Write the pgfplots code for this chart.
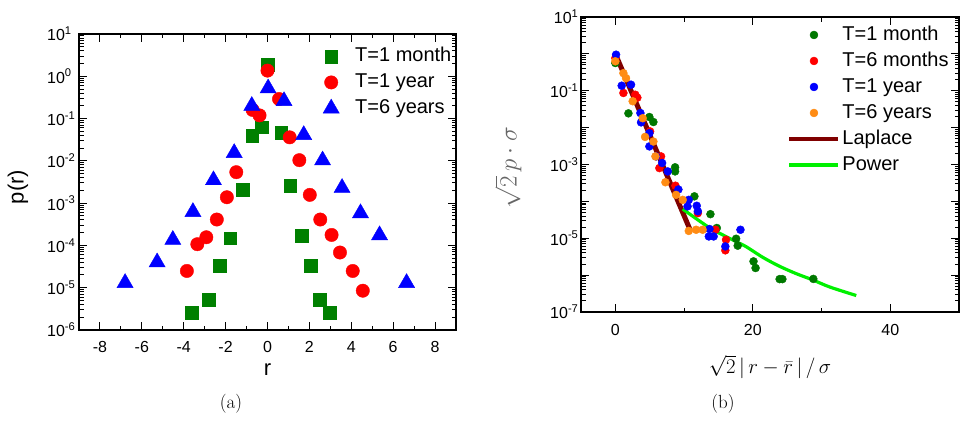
\documentclass[border=0pt]{standalone}
\usepackage{fontspec}
\newfontfamily\arial{Liberation Sans}
\usepackage{pgfplots}
\pgfplotsset{compat=1.18}
\definecolor{sqgreen}{RGB}{0,128,0}
\definecolor{dgreen}{RGB}{0,120,0}
\definecolor{orng}{RGB}{255,140,20}
\definecolor{laplace}{RGB}{128,0,0}
\definecolor{power}{RGB}{0,240,0}
\pgfplotsset{
  lineleg/.style={legend image code/.code={%
    \path[draw=none,fill=none] (0pt,-2pt) rectangle (53pt,2pt);
    \draw[##1, line width=#1] (0pt,0pt) -- (49pt,0pt);}},
}
\begin{document}
\begin{tikzpicture}[x=1pt,y=1pt]
\path[use as bounding box] (0,0) rectangle (963,426);
% ---------------- (a) ----------------
\begin{axis}[
  scale only axis, anchor=south west, ymode=log, log basis y=10,
  axis line style={line width=1.4pt},
  tick style={line width=1pt, black},
  major tick length=8pt, minor tick length=4.5pt,
  tick align=inside,
  ticklabel style={font=\arial\fontsize{16}{19}\selectfont},
  legend cell align=left,
  at={(79pt,96pt)}, width=377pt, height=296pt,
  xmin=-9, xmax=9, ymin=1e-6, ymax=10,
  xtick={-8,-6,-4,-2,0,2,4,6,8},
  xticklabels={-8,-6,-4,-2,0,2,4,6,8},
  minor xtick={-9,-7,-5,-3,-1,1,3,5,7,9},
  xticklabel style={yshift=-8pt},
  ytick={1e-6,1e-5,1e-4,1e-3,1e-2,1e-1,1,10},
  yticklabels={10\textsuperscript{-6},10\textsuperscript{-5},10\textsuperscript{-4},10\textsuperscript{-3},10\textsuperscript{-2},10\textsuperscript{-1},10\textsuperscript{0},10\textsuperscript{1}},
  yticklabel style={anchor=west, inner xsep=0pt, xshift=-32pt},
  minor ytick={2e-6,3e-6,4e-6,5e-6,6e-6,7e-6,8e-6,9e-6,
    2e-5,3e-5,4e-5,5e-5,6e-5,7e-5,8e-5,9e-5,
    2e-4,3e-4,4e-4,5e-4,6e-4,7e-4,8e-4,9e-4,
    2e-3,3e-3,4e-3,5e-3,6e-3,7e-3,8e-3,9e-3,
    2e-2,3e-2,4e-2,5e-2,6e-2,7e-2,8e-2,9e-2,
    2e-1,3e-1,4e-1,5e-1,6e-1,7e-1,8e-1,9e-1,
    2,3,4,5,6,7,8,9},
  xlabel={r}, ylabel={p(r)},
  label style={font=\arial\fontsize{22}{26}\selectfont},
  xlabel style={at={(axis description cs:0.5,-0.135)}, anchor=center},
  ylabel style={at={(axis description cs:-0.162,0.483)}, anchor=center},
  legend style={at={(axis description cs:0.6366,0.957)}, anchor=north west,
    draw=none, fill=none, inner sep=0pt, row sep=7pt,
    font=\arial\fontsize{20}{24}\selectfont,
    nodes={inner sep=0pt, text height=15pt, text depth=4pt}},
  legend image code/.code={%
    \path[draw=none,fill=none] (0pt,-2pt) rectangle (36pt,2pt);
    \draw[#1] plot coordinates {(12pt,0pt)};},
]
\addplot[only marks, mark=square*, mark size=6.3pt, color=sqgreen] coordinates {
(0,1.88) (-0.27,0.063) (-0.74,0.040) (0.66,0.047) (-1.17,0.00206) (1.09,0.0026)
(-1.78,1.48e-4) (1.62,1.7e-4) (-2.28,3.3e-5) (2.07,3.3e-5) (-2.82,5.2e-6)
(2.5,5.2e-6) (-3.62,2.6e-6) (2.98,2.6e-6)};
\addlegendentry{T=1 month}
\addplot[only marks, mark=*, mark size=6.7pt, color=red] coordinates {
(0,1.36) (0.55,0.29) (-0.71,0.16) (-0.38,0.119) (1.06,0.036) (1.52,0.0104)
(-1.49,0.0054) (2.02,0.00157) (-1.94,0.00138) (-2.42,4.1e-4) (2.52,4.1e-4)
(-2.92,1.56e-4) (-3.35,1.07e-4) (3.06,1.77e-4) (3.46,6.8e-5) (-3.85,2.49e-5)
(4.07,2.49e-5) (4.55,8.5e-6)};
\addlegendentry{T=1 year}
\addplot[only marks, mark=triangle*, mark size=9.3pt, color=blue] coordinates {
(0.03,0.52) (-0.75,0.20) (0.79,0.26) (1.73,0.041) (-1.59,0.0154) (2.63,0.0103)
(-2.58,0.0035) (3.56,0.0023) (-3.56,6.2e-4) (4.44,5.8e-4) (-4.52,1.36e-4)
(5.35,1.75e-4) (-5.27,4.0e-5) (-6.8,1.3e-5) (6.64,1.3e-5)};
\addlegendentry{T=6 years}
\end{axis}
% ---------------- (b) ----------------
\begin{axis}[
  scale only axis, anchor=south west, ymode=log, log basis y=10,
  axis line style={line width=1.4pt},
  tick style={line width=1pt, black},
  major tick length=8pt, minor tick length=4.5pt,
  tick align=inside,
  ticklabel style={font=\arial\fontsize{16}{19}\selectfont},
  legend cell align=left,
  at={(581pt,114pt)}, width=378pt, height=295pt,
  xmin=-5, xmax=50, ymin=1e-7, ymax=10,
  xtick={0,20,40}, xticklabels={0,20,40}, minor xtick={10,30,50},
  xticklabel style={yshift=-9pt},
  ytick={1e-7,1e-6,1e-5,1e-4,1e-3,1e-2,1e-1,1,10},
  yticklabels={10\textsuperscript{-7},,10\textsuperscript{-5},,10\textsuperscript{-3},,10\textsuperscript{-1},,10\textsuperscript{1}},
  yticklabel style={xshift=1pt},
  minor ytick={2e-7,3e-7,4e-7,5e-7,6e-7,7e-7,8e-7,9e-7,
    2e-6,3e-6,4e-6,5e-6,6e-6,7e-6,8e-6,9e-6,
    2e-5,3e-5,4e-5,5e-5,6e-5,7e-5,8e-5,9e-5,
    2e-4,3e-4,4e-4,5e-4,6e-4,7e-4,8e-4,9e-4,
    2e-3,3e-3,4e-3,5e-3,6e-3,7e-3,8e-3,9e-3,
    2e-2,3e-2,4e-2,5e-2,6e-2,7e-2,8e-2,9e-2,
    2e-1,3e-1,4e-1,5e-1,6e-1,7e-1,8e-1,9e-1,
    2,3,4,5,6,7,8,9},
  xlabel={\fontsize{20}{24}\selectfont$\sqrt{2}\,|\,r-\bar{r}\,|\,/\,\sigma$},
  ylabel={\fontsize{26}{30}\selectfont\color{black!60}$\sqrt{2}\,p\cdot\sigma$},
  xlabel style={at={(axis description cs:0.5,-0.186)}, anchor=center},
  ylabel style={at={(axis description cs:-0.193,0.49)}, anchor=center},
  legend style={at={(axis description cs:0.545,0.972)}, anchor=north west,
    draw=none, fill=none, inner sep=0pt, row sep=7pt,
    font=\arial\fontsize{20}{24}\selectfont,
    nodes={inner sep=0pt, text height=15pt, text depth=4pt}},
  legend image code/.code={%
    \path[draw=none,fill=none] (0pt,-2pt) rectangle (53pt,2pt);
    \draw[#1] plot coordinates {(24.5pt,0pt)};},
]
\addplot[only marks, mark=*, mark size=4pt, color=dgreen] coordinates {
(0,0.565) (1.9,0.0244) (4.95,0.0194) (5.53,0.0142) (8.69,8.4e-4) (8.69,6.5e-4)
(11.5,1.37e-4) (13.83,4.5e-5) (14.76,1.9e-5) (17.57,9.7e-6) (17.8,6.3e-6)
(20.1,2.36e-6) (20.4,1.56e-6) (23.9,7.8e-7) (24.3,7.8e-7) (28.8,7.9e-7)};
\addlegendentry{T=1 month}
\addplot[only marks, mark=*, mark size=4pt, color=red] coordinates {
(0,0.77) (1.17,0.087) (2.9,0.078) (3.2,0.065) (5.05,0.0079) (6.4,8e-4)
(6.65,0.00166) (8.74,2.66e-4) (12,4.8e-5) (14.56,1.7e-5) (16.1,9.1e-6) (16,4.7e-6)};
\addlegendentry{T=6 months}
\addplot[only marks, mark=*, mark size=4pt, color=blue] coordinates {
(0.1,0.95) (0.92,0.137) (2.28,0.146) (3.64,0.0249) (3.74,0.0139) (4.95,0.0071)
(4.95,0.0031) (5.92,0.00166) (6.8,0.0011) (7.62,6.5e-4) (9.17,2.1e-4)
(10.68,1.1e-4) (10.5,7.3e-5) (11.84,7.6e-5) (12,5.4e-5) (13.6,1.12e-5)
(13.7,1.78e-5) (14.3,1.12e-5) (16,6e-6) (18.2,1.7e-5)};
\addlegendentry{T=1 year}
\addplot[only marks, mark=*, mark size=4pt, color=orng] coordinates {
(0,0.63) (1.17,0.30) (1.55,0.22) (2.52,0.052) (3.98,0.018) (4.32,0.0056)
(5.53,0.0042) (5.83,0.00166) (7.28,3.3e-4) (8.83,1.5e-4) (9.8,1.1e-4)
(10.68,1.58e-5) (11.75,1.7e-5) (12.7,1.7e-5)};
\addlegendentry{T=6 years}
\addplot[no marks, line width=5pt, color=laplace, lineleg=4.5pt] coordinates {(0,1.0) (10.87,1.7e-5)};
\addlegendentry{Laplace}
\addplot[no marks, smooth, line width=3.2pt, color=power, lineleg=3.2pt] coordinates {
(9.8,6.2e-5) (12,3.16e-5) (14.17,1.71e-5) (17.6,8.05e-6) (19.03,5.9e-6)
(21.5,3.0e-6) (23.88,1.74e-6) (26.3,1.1e-6) (28.73,7.4e-7) (31.2,4.76e-7) (35.05,2.8e-7)};
\addlegendentry{Power}
\end{axis}
\node[font=\fontsize{19}{22}\selectfont] at (231,22) {(a)};
\node[font=\fontsize{19}{22}\selectfont] at (723,22) {(b)};
\end{tikzpicture}
\end{document}
